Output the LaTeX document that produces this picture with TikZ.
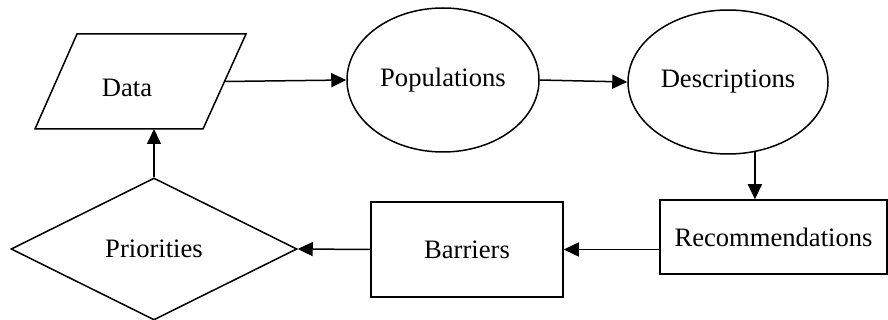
\documentclass[tikz,border=0pt]{standalone}
\usepackage{fontspec}
\setmainfont{Liberation Serif}
\usepackage{tikz}
\usetikzlibrary{positioning}
\usetikzlibrary{shapes}
\usetikzlibrary{arrows.meta}

\tikzset{
	box/.style={draw, line width=0.75pt, font=\fontsize{13.3}{16}\selectfont},
	txt/.style={font=\fontsize{13.3}{16}\selectfont},
	flow/.style={line width=0.75pt, -{Triangle[length=7.5pt,width=7pt]}}
}

\begin{document}
\begin{tikzpicture}[x=0.5pt, y=-0.5pt]
		\useasboundingbox (0,0) rectangle (888,320);

		% data parallelogram
		\draw[line width=0.75pt] (77,34) -- (246,34) -- (203,129) -- (35,129) -- cycle;
		\node[txt] (data) at (127,88) {Data};
		\coordinate (dataR) at (224.5,81.5);
		\coordinate (dataB) at (154,129);

		\node[box, ellipse, minimum width=96pt, minimum height=72pt, inner sep=0pt] (pop) at (443,80) {Populations};
		\node[box, ellipse, minimum width=100pt, minimum height=72pt, inner sep=0pt] (desc) at (728,82) {Descriptions};
		\node[box, rectangle, minimum width=113.5pt, minimum height=37pt, inner sep=0pt] (rec) at (773.5,237) {Recommendations};
		\node[box, rectangle, minimum width=96pt, minimum height=47.5pt, inner sep=0pt] (bar) at (467,249.5) {Barriers};
		\node[box, diamond, aspect=2, minimum width=143pt, minimum height=71pt, inner sep=0pt] (prio) at (154,249) {Priorities};

		\draw[flow] (dataR) -- (pop.west);
		\draw[flow] (pop.east) -- (desc.west);
		\draw[flow] (desc.-69) -- (desc.-69 |- rec.north);
		\draw[flow] (rec.west |- bar.east) -- (bar.east);
		\draw[flow] (bar.west) -- (prio.east);
		\draw[flow] (prio.north) -- (dataB);
\end{tikzpicture}
\end{document}
